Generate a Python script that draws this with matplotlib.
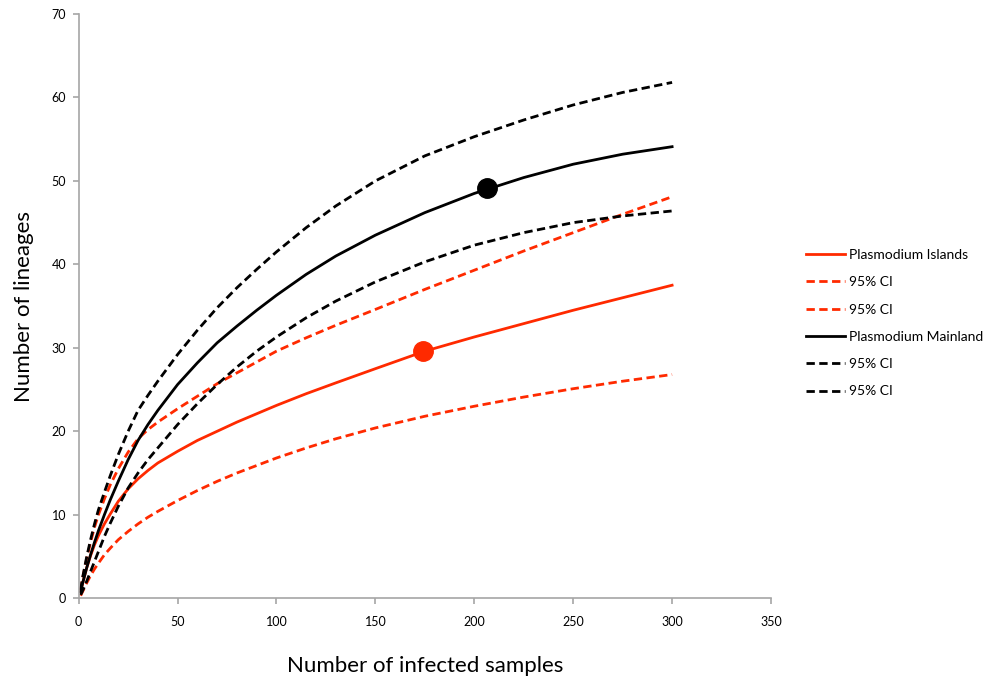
import numpy as np
import matplotlib.pyplot as plt

plt.rcParams['font.family'] = ['Lato', 'DejaVu Sans']

# campioni (numero di campioni infetti)
x = [1, 2, 4, 6, 8, 10, 13, 16, 20, 25, 30, 35, 40, 50, 60, 70, 80, 90, 100,
     115, 130, 150, 175, 200, 225, 250, 275, 300]

# Plasmodium isole: curva + IC 95%
isl = [0.8, 1.8, 3.6, 5.1, 6.4, 7.5, 8.9, 10.1, 11.6, 13.1, 14.3, 15.3, 16.2, 17.6, 18.9, 20.0, 21.1, 22.1, 23.1,
       24.5, 25.8, 27.5, 29.6, 31.3, 32.9, 34.5, 36.0, 37.5]
isl_up = [1.0, 2.4, 4.7, 6.7, 8.5, 10.0, 11.9, 13.6, 15.5, 17.5, 19.1, 20.2, 21.1, 22.7, 24.2, 25.7, 27.0, 28.3, 29.6,
          31.2, 32.7, 34.6, 37.0, 39.3, 41.6, 43.8, 46.0, 48.1]
isl_lo = [0.3, 0.8, 1.8, 2.7, 3.5, 4.2, 5.2, 6.0, 7.0, 8.0, 8.9, 9.7, 10.4, 11.7, 12.9, 14.0, 15.0, 15.9, 16.8,
          18.0, 19.1, 20.4, 21.8, 23.0, 24.1, 25.1, 26.0, 26.8]

# Plasmodium continente: curva + IC 95%
main = [0.8, 1.8, 3.6, 5.2, 6.7, 8.1, 10.0, 11.8, 14.0, 16.6, 18.9, 20.8, 22.5, 25.6, 28.2, 30.6, 32.6, 34.5, 36.3,
        38.8, 41.0, 43.5, 46.2, 48.5, 50.4, 52.0, 53.2, 54.1]
main_up = [1.0, 2.5, 4.9, 7.0, 8.9, 10.6, 12.7, 14.7, 17.2, 20.0, 22.5, 24.3, 26.0, 29.2, 32.1, 34.8, 37.2, 39.4, 41.5,
           44.4, 47.0, 50.0, 53.0, 55.3, 57.3, 59.1, 60.6, 61.8]
main_lo = [0.4, 0.9, 2.0, 3.2, 4.4, 5.6, 7.4, 9.0, 11.0, 13.2, 15.0, 16.6, 18.0, 20.8, 23.3, 25.6, 27.7, 29.6, 31.3,
           33.6, 35.6, 37.9, 40.3, 42.3, 43.8, 45.0, 45.8, 46.4]

# punti osservati
pt_isl = (174.2, 29.6)
pt_main = (206.6, 49.2)

red = '#ff2a00'
dash = (3.0, 1.6)
lw = 2.0

fig = plt.figure(figsize=(9.91, 6.86), dpi=100)
ax = fig.add_axes([0.0794, 0.128, 0.6986, 0.8516])

ax.plot(x, isl, color=red, lw=lw, label='Plasmodium Islands')
ax.plot(x, isl_up, color=red, lw=lw, dashes=dash, label='95% CI')
ax.plot(x, isl_lo, color=red, lw=lw, dashes=dash, label='95% CI')
ax.plot(x, main, color='black', lw=lw, label='Plasmodium Mainland')
ax.plot(x, main_up, color='black', lw=lw, dashes=dash, label='95% CI')
ax.plot(x, main_lo, color='black', lw=lw, dashes=dash, label='95% CI')
ax.plot(*pt_isl, 'o', color=red, ms=14)
ax.plot(*pt_main, 'o', color='black', ms=14)

ax.set_xlim(0, 350)
ax.set_ylim(0, 70)
ax.set_xticks(np.arange(0, 351, 50))
ax.set_yticks(np.arange(0, 71, 10))
for s in ['top', 'right']:
    ax.spines[s].set_visible(False)
for s in ['left', 'bottom']:
    ax.spines[s].set_color('#a6a6a6')
    ax.spines[s].set_linewidth(1.2)
ax.tick_params(axis='both', colors='#a6a6a6', labelcolor='black', labelsize=9, length=4, width=1.2)
ax.tick_params(axis='x', pad=9)
ax.tick_params(axis='y', pad=5)

ax.set_xlabel('Number of infected samples', fontsize=16, labelpad=20)
ax.set_ylabel('Number of lineages', fontsize=16, labelpad=13)

fig.legend(loc='upper left', bbox_to_anchor=(0.813, 0.637), frameon=False,
           fontsize=10, handlelength=2.8, handletextpad=0.35, labelspacing=1.1,
           borderpad=0, borderaxespad=0)

fig.savefig('out.png', dpi=100)
